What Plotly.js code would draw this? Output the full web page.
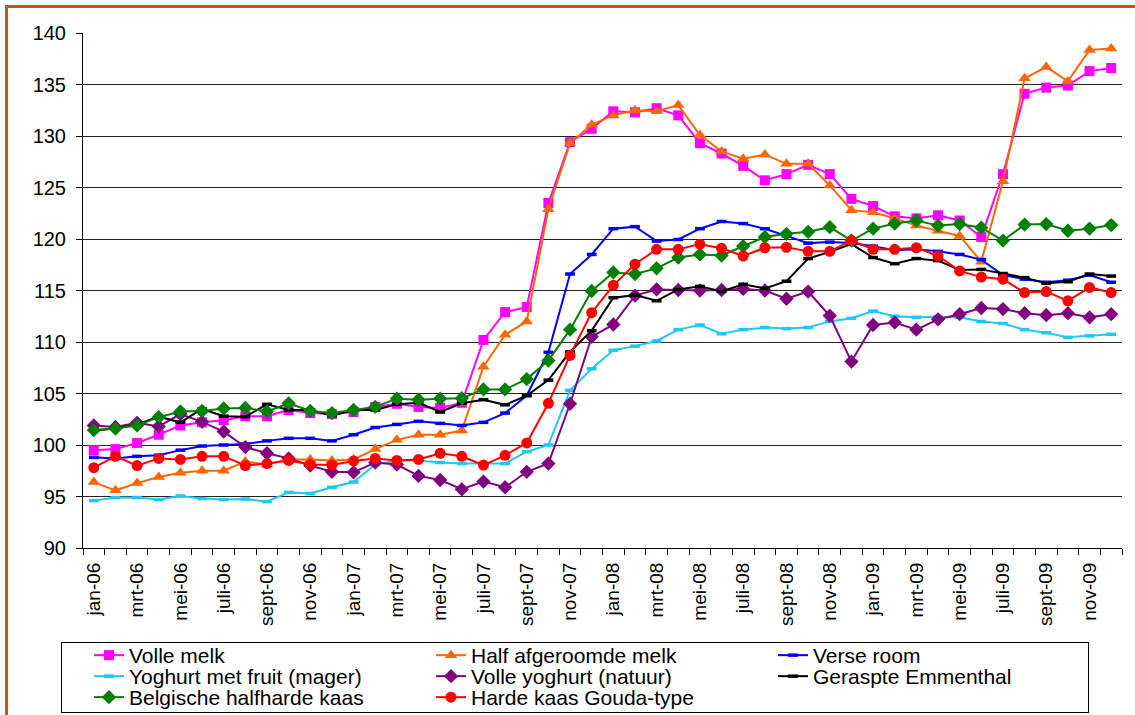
<!DOCTYPE html>
<html>
<head>
<meta charset="utf-8">
<script src="https://cdn.plot.ly/plotly-3.0.1.min.js"></script>
<style>
html, body { margin: 0; padding: 0; background: #fff; }
#wrap { position: relative; width: 1135px; height: 715px; overflow: hidden; }
#chart { position: absolute; left: 0; top: 0; width: 1135px; height: 715px; }
#frame { position: absolute; left: 5px; top: 5px; width: 1140px; height: 720px; border: 3px solid #C5502B; box-sizing: border-box; pointer-events: none; }
#legbox { position: absolute; left: 61px; top: 642px; width: 1028px; height: 71px; border: 1px solid #000; box-sizing: border-box; pointer-events: none; }
</style>
</head>
<body>
<div id="wrap"><div id="chart"></div><div id="legbox"></div><div id="frame"></div></div>
<script>
const months = [
  'jan-06','feb-06','mrt-06','apr-06','mei-06','jun-06','juli-06','aug-06','sept-06','okt-06','nov-06','dec-06',
  'jan-07','feb-07','mrt-07','apr-07','mei-07','jun-07','juli-07','aug-07','sept-07','okt-07','nov-07','dec-07',
  'jan-08','feb-08','mrt-08','apr-08','mei-08','jun-08','juli-08','aug-08','sept-08','okt-08','nov-08','dec-08',
  'jan-09','feb-09','mrt-09','apr-09','mei-09','jun-09','juli-09','aug-09','sept-09','okt-09','nov-09','dec-09'
];

const volleMelk = [
  99.5, 99.6, 100.2, 101.0, 101.9, 102.2, 102.4, 102.8, 102.8, 103.4, 103.1, 103.0,
  103.2, 103.7, 104.0, 103.7, 103.6, 104.1, 110.2, 112.9, 113.4, 123.5, 129.4, 130.7,
  132.4, 132.3, 132.7, 132.0, 129.3, 128.3, 127.1, 125.7, 126.3, 127.2, 126.3, 123.9,
  123.2, 122.2, 122.0, 122.3, 121.8, 120.2, 126.3, 134.1, 134.7, 134.9, 136.3, 136.6
];
const halfAfgeroomd = [
  96.4, 95.6, 96.3, 96.9, 97.3, 97.5, 97.5, 98.4, 98.1, 98.6, 98.6, 98.5,
  98.6, 99.6, 100.5, 101.0, 101.0, 101.4, 107.6, 110.7, 112.0, 122.9, 129.3, 131.1,
  132.0, 132.5, 132.4, 133.0, 130.1, 128.5, 127.8, 128.2, 127.3, 127.3, 125.2, 122.8,
  122.6, 122.0, 121.3, 120.8, 120.3, 117.8, 125.6, 135.6, 136.7, 135.3, 138.35, 138.5
];
const verseRoom = [
  98.8, 98.7, 98.9, 99.0, 99.5, 99.9, 100.0, 100.1, 100.4, 100.65, 100.65, 100.4,
  101.0, 101.7, 102.0, 102.3, 102.1, 101.9, 102.2, 103.1, 104.8, 109.0, 116.6, 118.5,
  121.0, 121.2, 119.8, 119.95, 121.0, 121.7, 121.5, 121.0, 120.3, 119.6, 119.7, 119.6,
  119.3, 118.9, 119.0, 118.8, 118.5, 118.0, 116.5, 116.1, 115.8, 116.0, 116.5, 115.8
];
const yoghurtFruit = [
  94.6, 94.9, 94.9, 94.7, 95.05, 94.8, 94.7, 94.75, 94.5, 95.4, 95.3, 95.9,
  96.4, 98.1, 98.5, 98.5, 98.3, 98.2, 98.2, 98.2, 99.35, 100.0, 105.3, 107.4,
  109.2, 109.6, 110.1, 111.2, 111.65, 110.8, 111.2, 111.4, 111.3, 111.4, 112.0, 112.3,
  113.0, 112.5, 112.4, 112.45, 112.4, 112.0, 111.8, 111.2, 110.9, 110.45, 110.6, 110.75
];
const volleYoghurt = [
  101.9, 101.75, 102.15, 101.8, 103.0, 102.25, 101.3, 99.8, 99.2, 98.7, 98.0, 97.4,
  97.35, 98.3, 98.1, 97.0, 96.6, 95.7, 96.45, 95.9, 97.4, 98.2, 104.0, 110.5,
  111.7, 114.5, 115.1, 115.05, 115.0, 115.05, 115.15, 115.0, 114.2, 114.9, 112.55, 108.1,
  111.65, 111.9, 111.2, 112.2, 112.7, 113.3, 113.2, 112.8, 112.6, 112.8, 112.4, 112.7
];
const emmenthal = [
  101.4, 101.6, 102.0, 102.75, 102.2, 103.5, 102.8, 102.75, 103.95, 103.4, 103.4, 102.85,
  103.4, 103.4, 103.95, 104.1, 103.2, 104.05, 104.4, 103.9, 104.8, 106.3, 109.05, 111.1,
  114.3, 114.55, 114.0, 115.1, 115.4, 114.9, 115.6, 115.2, 115.9, 118.1, 118.75, 119.5,
  118.2, 117.6, 118.1, 117.9, 117.0, 117.05, 116.65, 116.25, 115.7, 115.85, 116.6, 116.4
];
const halfhardeKaas = [
  101.45, 101.6, 101.9, 102.7, 103.25, 103.3, 103.55, 103.6, 103.25, 104.05, 103.3, 103.1,
  103.4, 103.7, 104.5, 104.4, 104.5, 104.55, 105.4, 105.4, 106.4, 108.2, 111.2, 114.95,
  116.75, 116.6, 117.15, 118.2, 118.5, 118.4, 119.3, 120.2, 120.5, 120.7, 121.15, 119.85,
  121.0, 121.5, 121.8, 121.3, 121.45, 121.1, 119.85, 121.4, 121.45, 120.8, 121.0, 121.35
];
const goudaKaas = [
  97.8, 98.9, 98.0, 98.7, 98.6, 98.9, 98.9, 98.0, 98.2, 98.5, 98.1, 98.05,
  98.45, 98.7, 98.5, 98.6, 99.2, 98.9, 98.05, 99.0, 100.2, 104.05, 108.7, 112.85,
  115.5, 117.55, 119.0, 119.0, 119.5, 119.1, 118.35, 119.15, 119.2, 118.8, 118.8, 119.85,
  119.0, 119.0, 119.15, 118.35, 116.9, 116.3, 116.1, 114.8, 114.9, 114.0, 115.3, 114.8
];

const seriesNames = [
  'Volle melk', 'Half afgeroomde melk', 'Verse room',
  'Yoghurt met fruit (mager)', 'Volle yoghurt (natuur)', 'Geraspte Emmenthal',
  'Belgische halfharde kaas', 'Harde kaas Gouda-type'
];
const yTicks = [90, 95, 100, 105, 110, 115, 120, 125, 130, 135, 140];

const xIdx = months.map((m, i) => i);
const labelIdx = xIdx.filter(i => i % 2 === 0);
const labelText = labelIdx.map(i => months[i]);

const W = 1135, H = 715;
const L = 83, R = 1122, T = 33, B = 548;

const legendIds = ['legend', 'legend2', 'legend3', 'legend4', 'legend5', 'legend6', 'legend7', 'legend8'];

function tr(k, y, color, symbol, size, dash) {
  const t = {
    type: 'scatter', mode: 'lines+markers', name: seriesNames[k], x: xIdx, y: y,
    line: { color: color, width: 2 },
    marker: { color: color, symbol: symbol, size: size },
    legend: legendIds[k]
  };
  if (dash) {
    t.marker = { color: color, symbol: 'line-ew', size: 7, line: { color: color, width: 3.5 } };
  }
  return t;
}

const data = [
  tr(0, volleMelk, '#FF00FF', 'square', 10),
  tr(1, halfAfgeroomd, '#FF6600', 'triangle-up', 11),
  tr(2, verseRoom, '#0000FF', 'square', 5, true),
  tr(3, yoghurtFruit, '#1EC8F5', 'square', 5, true),
  tr(4, volleYoghurt, '#800080', 'diamond', 11),
  tr(5, emmenthal, '#000000', 'square', 5, true),
  tr(6, halfhardeKaas, '#008000', 'diamond', 11),
  tr(7, goudaKaas, '#FF0000', 'circle', 11)
];

const layout = {
  width: W, height: H,
  margin: { l: L, r: W - R, t: T, b: H - B },
  paper_bgcolor: '#fff', plot_bgcolor: '#fff',
  font: { family: 'Liberation Sans, Arial, sans-serif', color: '#000' },
  showlegend: true,
  xaxis: {
    range: [-0.5, 47.5], tickmode: 'array', tickvals: labelIdx, ticktext: labelText,
    tickangle: -90, ticks: '', showgrid: false, zeroline: false,
    showline: true, linecolor: '#000', linewidth: 1, ticklabelstandoff: 6,
    tickfont: { size: 19, family: 'Liberation Sans, Arial, sans-serif', color: '#000' },
    minor: { tickmode: 'linear', tick0: -0.5, dtick: 1, ticks: 'outside', ticklen: 6, tickcolor: '#000', tickwidth: 1, showgrid: false }
  },
  yaxis: {
    range: [90, 140], tickmode: 'array', tickvals: yTicks, ticktext: yTicks.map(String),
    ticks: 'outside', ticklen: 6, tickcolor: '#000', ticklabelstandoff: 6,
    showgrid: true, gridcolor: '#222', gridwidth: 1, zeroline: false,
    showline: true, linecolor: '#000', linewidth: 1,
    tickfont: { size: 20, family: 'Liberation Sans, Arial, sans-serif', color: '#000' }
  }
};

legendIds.forEach((id, k) => {
  const row = Math.floor(k / 3), col = k % 3;
  const lx = 89 + 342 * col;
  const ly = 635 + 21 * row;
  layout[id] = {
    orientation: 'h', xanchor: 'left', yanchor: 'top',
    xref: 'container', yref: 'container',
    x: lx / W, y: 1 - ly / H,
    font: { family: 'Liberation Sans, Arial, sans-serif', size: 21, color: '#000' },
    bgcolor: 'rgba(0,0,0,0)', borderwidth: 0, itemwidth: 30
  };
});

Plotly.newPlot('chart', data, layout, { displayModeBar: false, staticPlot: true });
</script>
</body>
</html>
